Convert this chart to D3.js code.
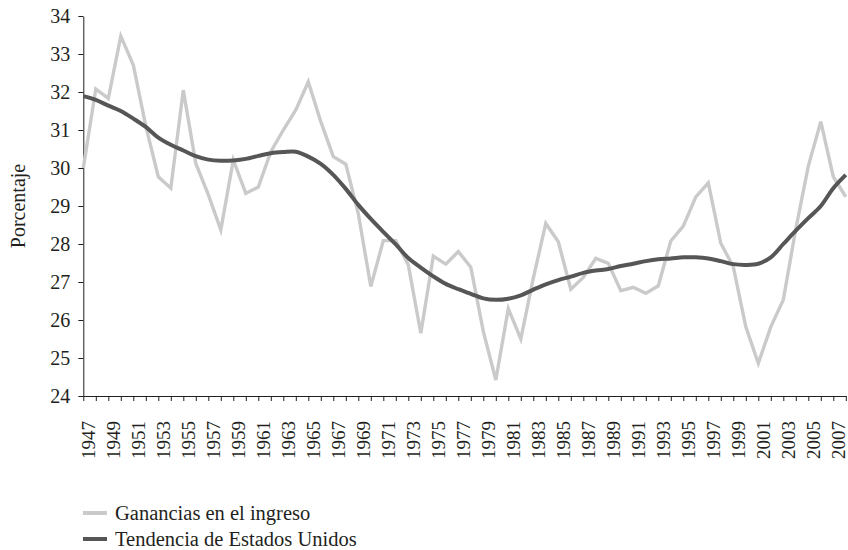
<!DOCTYPE html>
<html>
<head>
<meta charset="utf-8">
<script src="https://cdn.jsdelivr.net/npm/d3@7"></script>
<style>
  body { margin: 0; background: #fff; }
  svg text { font-family: 'Liberation Serif', 'DejaVu Serif', serif; fill: #231f20; }
</style>
</head>
<body>
<svg width="848" height="550"></svg>
<script>
// category labels on the axis (one band per year)
const years = d3.range(1947, 2008);
const labelYears = years.filter(y => (y - 1947) % 2 === 0);

// the plotted series have one more point than the labelled years;
// the points sit on the tick marks between bands
const ganancias = [
  30.0, 32.08, 31.83, 33.47, 32.71, 31.1, 29.77, 29.47, 32.05, 30.12,
  29.3, 28.37, 30.21, 29.33, 29.5, 30.43, 31.0, 31.53, 32.27, 31.22,
  30.3, 30.1, 28.8, 26.88, 28.09, 28.09, 27.45, 25.65, 27.68, 27.47,
  27.8, 27.39, 25.7, 24.42, 26.3, 25.5, 27.1, 28.54, 28.06, 26.81,
  27.12, 27.62, 27.49, 26.77, 26.86, 26.7, 26.9, 28.08, 28.47, 29.24,
  29.61, 28.02, 27.4, 25.82, 24.86, 25.82, 26.53, 28.4, 30.05, 31.22,
  29.77, 29.24
];
const tendencia = [
  31.89, 31.79, 31.64, 31.5, 31.3, 31.08, 30.8, 30.61, 30.46, 30.31,
  30.22, 30.19, 30.2, 30.24, 30.32, 30.39, 30.42, 30.43, 30.3, 30.11,
  29.82, 29.45, 29.03, 28.66, 28.32, 27.99, 27.63, 27.38, 27.15, 26.95,
  26.81, 26.69, 26.57, 26.53, 26.56, 26.65, 26.8, 26.94, 27.05, 27.14,
  27.24, 27.3, 27.34, 27.42, 27.48, 27.55, 27.6, 27.62, 27.65, 27.65,
  27.62, 27.55, 27.47, 27.45, 27.48, 27.65, 28.0, 28.35, 28.68, 29.0,
  29.47, 29.82
];

const yTicks = d3.range(24, 35);

const FONT = "'Liberation Serif', 'DejaVu Serif', serif";

const svg = d3.select('svg').attr('font-family', FONT);
const mLeft = 83.3, mRight = 845.8, mTop = 16, mBottom = 396;

const xBand = d3.scaleBand().domain(years).range([mLeft, mRight]);
const xPt = d3.scaleLinear().domain([0, ganancias.length - 1]).range([mLeft, mRight]);
const y = d3.scaleLinear().domain([24, 34]).range([mBottom, mTop]);

// x axis: tick marks between bands
svg.append('g')
    .attr('transform', `translate(0,${mBottom})`)
    .call(d3.axisBottom(xPt).tickValues(d3.range(ganancias.length)).tickFormat('').tickSize(5).tickSizeOuter(0))
    .call(g => g.selectAll('path, line').attr('stroke', '#231f20'));

// x labels, rotated, centred on each band
svg.append('g')
  .selectAll('text')
  .data(labelYears)
  .enter()
  .append('text')
    .attr('transform', d => `translate(${xBand(d) + xBand.bandwidth() / 2}, 421) rotate(-90)`)
    .attr('text-anchor', 'end')
    .attr('dy', '0.3em')
    .attr('font-family', FONT)
    .attr('font-size', 19)
    .text(d => d);

// y axis
svg.append('g')
    .attr('transform', `translate(${mLeft},0)`)
    .call(d3.axisLeft(y).tickValues(yTicks).tickSize(5).tickSizeOuter(0).tickPadding(8))
    .attr('font-family', FONT)
    .call(g => g.selectAll('path, line').attr('stroke', '#231f20'))
    .call(g => g.selectAll('text').attr('font-size', 20).attr('font-family', FONT).attr('fill', '#231f20'));

svg.append('text')
    .attr('transform', 'translate(18, 206) rotate(-90)')
    .attr('text-anchor', 'middle')
    .attr('dy', '0.35em')
    .attr('font-family', FONT)
    .attr('font-size', 20)
    .text('Porcentaje');

// series
const lineRaw = d3.line().x((d, i) => xPt(i)).y(d => y(d));
const lineSmooth = d3.line().x((d, i) => xPt(i)).y(d => y(d)).curve(d3.curveCatmullRom);

svg.append('path')
    .datum(ganancias)
    .attr('d', lineRaw)
    .attr('fill', 'none')
    .attr('stroke', '#cacaca')
    .attr('stroke-width', 3.4);

svg.append('path')
    .datum(tendencia)
    .attr('d', lineSmooth)
    .attr('fill', 'none')
    .attr('stroke', '#565656')
    .attr('stroke-width', 4);

// legend
const legend = [
  { name: 'Ganancias en el ingreso', color: '#cacaca' },
  { name: 'Tendencia de Estados Unidos', color: '#565656' }
];

const lg = svg.selectAll('.legend')
    .data(legend)
    .enter()
    .append('g')
      .attr('class', 'legend')
      .attr('transform', (d, i) => `translate(83, ${513 + i * 26})`);

lg.append('line')
    .attr('x1', 0).attr('x2', 24)
    .attr('stroke', d => d.color)
    .attr('stroke-width', 4);

lg.append('text')
    .attr('x', 32)
    .attr('dy', '0.32em')
    .attr('font-family', FONT)
    .attr('font-size', 20.5)
    .text(d => d.name);
</script>
</body>
</html>
